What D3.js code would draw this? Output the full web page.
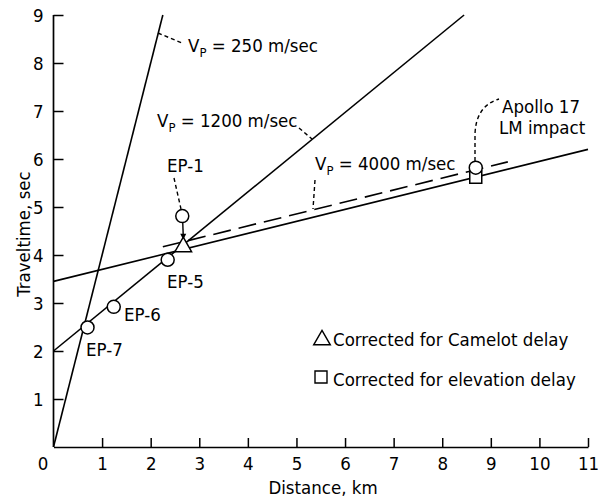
<!DOCTYPE html>
<html>
<head>
<meta charset="utf-8">
<script src="https://cdn.jsdelivr.net/npm/d3@7"></script>
<style>
  body { margin: 0; background: #fff; }
  svg text { font-family: 'DejaVu Sans Condensed', 'Liberation Sans Narrow', sans-serif; fill: #000; }
</style>
</head>
<body>
<svg id="chart" width="598" height="499"></svg>
<script>
// axis ticks
var xTicks = [0, 1, 2, 3, 4, 5, 6, 7, 8, 9, 10, 11];
var yTicks = [1, 2, 3, 4, 5, 6, 7, 8, 9];

// velocity lines, [distance km, traveltime s] endpoints
var lineNames = ['250', '1200', '4000'];
var lineStart = [[0, 0], [0, 2], [0, 3.45]];
var lineEnd = [[2.25, 9], [8.45, 9], [11, 6.2]];
var dashedStart = [2.25, 4.17];
var dashedEnd = [9.35, 5.94];

// shot points
var epNames = ['EP-7', 'EP-6', 'EP-5', 'EP-1'];
var epDist = [0.7, 1.24, 2.35, 2.65];
var epTime = [2.49, 2.92, 3.9, 4.81];

// Apollo 17 LM impact
var lmDist = 8.69;
var lmTime = 5.82;

// corrected values
var camelotPoint = [2.67, 4.17];
var elevationPoint = [8.69, 5.62];

var svg = d3.select('#chart');
var x = d3.scaleLinear().domain([0, 11]).range([53.5, 588]);
var y = d3.scaleLinear().domain([0, 9]).range([447, 15]);

var ink = '#000';
var fs = '18.5px';

// axes, ticks pointing inward
var xAxis = svg.append('g').attr('transform', 'translate(0,' + y(0) + ')')
  .call(d3.axisBottom(x).tickValues(xTicks).tickSizeInner(-9).tickSizeOuter(0).tickPadding(10));
var yAxis = svg.append('g').attr('transform', 'translate(' + x(0) + ',0)')
  .call(d3.axisLeft(y).tickValues(yTicks).tickSizeInner(-10).tickSizeOuter(0));
[xAxis, yAxis].forEach(function (g) {
  g.select('.domain').attr('stroke', ink).attr('stroke-width', 1.7);
  g.selectAll('.tick line').attr('stroke', ink).attr('stroke-width', 1.5);
  g.selectAll('.tick text').style('font-size', fs).attr('fill', ink);
});
xAxis.selectAll('.tick text').attr('y', 10).attr('dy', '0.72em')
  .attr('x', function (d) { return d === 0 ? -11 : 0; });
xAxis.selectAll('.tick').filter(function (d) { return d === 0; }).select('line').remove();
yAxis.selectAll('.tick text').attr('x', -10).attr('dy', '0.36em');
// y axis line stops at 9
yAxis.select('.domain').attr('d', 'M0,' + y(0) + 'V' + y(9));

svg.append('text').attr('x', 323).attr('y', 494).attr('text-anchor', 'middle')
  .style('font-size', fs).text('Distance, km');
svg.append('text').attr('transform', 'translate(30,234) rotate(-90)').attr('text-anchor', 'middle')
  .style('font-size', fs).text('Traveltime, sec');

// velocity lines
svg.selectAll('.vline').data(lineNames).enter().append('line')
  .attr('class', 'vline')
  .attr('x1', function (d, i) { return x(lineStart[i][0]); })
  .attr('y1', function (d, i) { return y(lineStart[i][1]); })
  .attr('x2', function (d, i) { return x(lineEnd[i][0]); })
  .attr('y2', function (d, i) { return y(lineEnd[i][1]); })
  .attr('stroke', ink).attr('stroke-width', 1.6);

svg.append('line')
  .attr('x1', x(dashedStart[0])).attr('y1', y(dashedStart[1]))
  .attr('x2', x(dashedEnd[0])).attr('y2', y(dashedEnd[1]))
  .attr('stroke', ink).attr('stroke-width', 1.6).attr('stroke-dasharray', '18,8');

// leaders
function leader(path) {
  svg.append('path').attr('d', path).attr('fill', 'none')
    .attr('stroke', ink).attr('stroke-width', 1.4).attr('stroke-dasharray', '4,3');
}
leader('M158,33 L182,43');
leader('M299,128 L312,139');
leader('M315,180 L313,209');
leader('M174,178 L181,209');
leader('M475,161 L475,134 Q476,106 499,99');

// arrow from EP-1 to corrected triangle
svg.append('line').attr('x1', x(epDist[3]) + 0.5).attr('y1', y(epTime[3]) + 6)
  .attr('x2', x(camelotPoint[0])).attr('y2', y(camelotPoint[1]) - 10)
  .attr('stroke', ink).attr('stroke-width', 1.4);
svg.append('path')
  .attr('d', 'M' + (x(camelotPoint[0]) - 3) + ',' + (y(camelotPoint[1]) - 13) +
    'L' + (x(camelotPoint[0]) + 3) + ',' + (y(camelotPoint[1]) - 13) +
    'L' + x(camelotPoint[0]) + ',' + (y(camelotPoint[1]) - 7) + 'Z')
  .attr('fill', ink);

// markers
var tri = d3.symbol().type(d3.symbolTriangle).size(120);
var sq = d3.symbol().type(d3.symbolSquare).size(144);
svg.append('path').attr('d', tri())
  .attr('transform', 'translate(' + x(camelotPoint[0]) + ',' + y(camelotPoint[1]) + ')')
  .attr('fill', '#fff').attr('stroke', ink).attr('stroke-width', 1.5);
svg.append('path').attr('d', sq())
  .attr('transform', 'translate(' + x(elevationPoint[0]) + ',' + y(elevationPoint[1]) + ')')
  .attr('fill', '#fff').attr('stroke', ink).attr('stroke-width', 1.5);

svg.selectAll('.ep').data(epNames).enter().append('circle')
  .attr('class', 'ep')
  .attr('cx', function (d, i) { return x(epDist[i]); })
  .attr('cy', function (d, i) { return y(epTime[i]); })
  .attr('r', 6.5)
  .attr('fill', '#fff').attr('stroke', ink).attr('stroke-width', 1.5);
svg.append('circle').attr('cx', x(lmDist)).attr('cy', y(lmTime)).attr('r', 6.5)
  .attr('fill', '#fff').attr('stroke', ink).attr('stroke-width', 1.5);

// labels
var epLabelPos = [[86, 356], [124, 321], [167, 288], [167, 172]];
svg.selectAll('.eplabel').data(epNames).enter().append('text')
  .attr('x', function (d, i) { return epLabelPos[i][0]; })
  .attr('y', function (d, i) { return epLabelPos[i][1]; })
  .style('font-size', fs).text(function (d) { return d; });

var vLabelPos = [[188, 52], [157, 127], [315, 170]];
vLabelPos.forEach(function (p, i) {
  var t = svg.append('text').attr('x', p[0]).attr('y', p[1]).style('font-size', fs);
  t.append('tspan').text('V');
  t.append('tspan').attr('dy', 5).style('font-size', '13px').text('P');
  t.append('tspan').attr('dy', -5).text(' = ' + lineNames[i] + ' m/sec');
});

svg.append('text').attr('x', 502).attr('y', 113).style('font-size', fs).text('Apollo 17');
svg.append('text').attr('x', 499).attr('y', 134).style('font-size', fs).text('LM impact');

// legend
svg.append('path').attr('d', tri()).attr('transform', 'translate(322,340)')
  .attr('fill', '#fff').attr('stroke', ink).attr('stroke-width', 1.4);
svg.append('path').attr('d', sq()).attr('transform', 'translate(321,377)')
  .attr('fill', '#fff').attr('stroke', ink).attr('stroke-width', 1.4);
svg.append('text').attr('x', 333).attr('y', 346).style('font-size', fs).text('Corrected for Camelot delay');
svg.append('text').attr('x', 333).attr('y', 386).style('font-size', fs).text('Corrected for elevation delay');
</script>
</body>
</html>
